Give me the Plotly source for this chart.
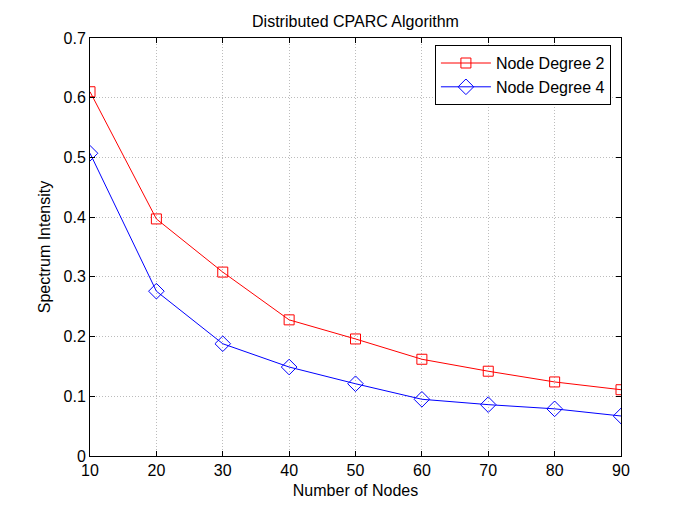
import plotly.graph_objects as go

nodes = [10, 20, 30, 40, 50, 60, 70, 80, 90]
degree2 = [0.610, 0.397, 0.308, 0.228, 0.196, 0.162, 0.142, 0.124, 0.111]
degree4 = [0.507, 0.276, 0.188, 0.149, 0.121, 0.095, 0.086, 0.079, 0.067]
ytick_vals = [0, 0.1, 0.2, 0.3, 0.4, 0.5, 0.6, 0.7]
ytick_text = ["0", "0.1", "0.2", "0.3", "0.4", "0.5", "0.6", "0.7"]

W, H = 677, 505

fig = go.Figure()
fig.add_trace(go.Scatter(
    x=nodes, y=degree2, mode="lines+markers", name="Node Degree 2",
    line=dict(color="#ff0000", width=1),
    marker=dict(symbol="square-open", size=10, color="#ff0000", line=dict(width=1)),
))
fig.add_trace(go.Scatter(
    x=nodes, y=degree4, mode="lines+markers", name="Node Degree 4",
    line=dict(color="#0000ff", width=1),
    marker=dict(symbol="diamond-open", size=12, color="#0000ff", line=dict(width=1)),
))

axis_common = dict(
    showline=True, linecolor="black", linewidth=1, mirror="ticks",
    ticks="inside", ticklen=5, tickcolor="black",
    showgrid=True, gridcolor="#bcbcbc", griddash="1px,2px", gridwidth=1,
    zeroline=False, tickfont=dict(size=16, color="black"), automargin=False,
)

fig.update_layout(
    width=W, height=H,
    margin=dict(l=82, r=64, t=30, b=57),
    paper_bgcolor="white", plot_bgcolor="white",
    font=dict(family="Liberation Sans, Arial, sans-serif", color="black"),
    title=dict(text="Distributed CPARC Algorithm", x=0.5, xanchor="center",
               xref="paper",
               y=1 - 13 / H, yanchor="middle",
               font=dict(size=16)),
    xaxis=dict(range=[10, 90], tickvals=nodes,
               title=dict(text="Number of Nodes", font=dict(size=16), standoff=6),
               **axis_common),
    yaxis=dict(range=[0, 0.7], tickvals=ytick_vals, ticktext=ytick_text,
               title=dict(text="Spectrum Intensity", font=dict(size=16), standoff=8),
               **axis_common),
    legend=dict(x=0.981, y=0.983, xanchor="right", yanchor="top",
                bordercolor="black", borderwidth=1, bgcolor="white",
                font=dict(size=16), tracegroupgap=0, itemwidth=50),
    showlegend=True,
)

fig.write_html("out.html")
